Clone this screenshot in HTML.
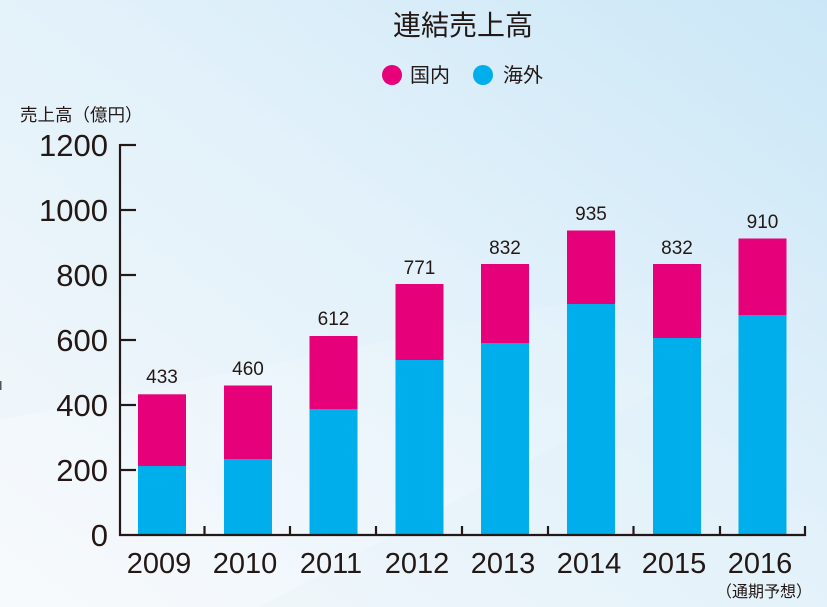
<!DOCTYPE html>
<html>
<head>
<meta charset="utf-8">
<style>
html,body{margin:0;padding:0;}
body{width:827px;height:607px;overflow:hidden;}
svg{display:block;}
.t{font-family:"Liberation Sans","Noto Sans CJK JP",sans-serif;fill:#231815;}
</style>
</head>
<body>
<svg width="827" height="607" viewBox="0 0 827 607" xmlns="http://www.w3.org/2000/svg">
<defs>
<linearGradient id="bg" x1="1" y1="0" x2="0" y2="1">
<stop offset="0" stop-color="#cbe7f7"/>
<stop offset="0.45" stop-color="#e2f1fa"/>
<stop offset="1" stop-color="#f4f8fb"/>
</linearGradient>
<linearGradient id="band" x1="0" y1="1" x2="1" y2="0">
<stop offset="0" stop-color="#ffffff" stop-opacity="0.6"/>
<stop offset="1" stop-color="#ffffff" stop-opacity="0"/>
</linearGradient>
</defs>
<rect width="827" height="607" fill="url(#bg)"/>
<polygon points="0,420 0,607 260,607 827,300 827,250" fill="url(#band)" opacity="0.5"/>
<rect x="0" y="381" width="1.5" height="9" fill="#555"/>

<!-- Title -->
<text class="t" x="463" y="35" font-size="28" font-weight="400" text-anchor="middle">連結売上高</text>
<!-- Legend -->
<circle cx="392" cy="75" r="10" fill="#e6007a"/>
<text class="t" x="410" y="82" font-size="20" fill="#333">国内</text>
<circle cx="483" cy="75" r="10" fill="#00aeeb"/>
<text class="t" x="503" y="82" font-size="20" fill="#333">海外</text>

<!-- Y axis label -->
<text class="t" x="20" y="121" font-size="17.5" fill="#333">売上高（億円）</text>

<!-- Y tick labels -->
<g class="t" font-size="31" text-anchor="end" fill="#2a2a2a">
<text x="108" y="156">1200</text>
<text x="108" y="221">1000</text>
<text x="108" y="286">800</text>
<text x="108" y="351">600</text>
<text x="108" y="416">400</text>
<text x="108" y="481">200</text>
<text x="108" y="546">0</text>
</g>

<!-- Bars -->
<g>
<rect x="138" y="394.3" width="48" height="140.7" fill="#e6007a"/>
<rect x="138" y="466" width="48" height="69" fill="#00aeeb"/>

<rect x="224" y="385.5" width="48" height="149.5" fill="#e6007a"/>
<rect x="224" y="459" width="48" height="76" fill="#00aeeb"/>

<rect x="309.5" y="336" width="48" height="199" fill="#e6007a"/>
<rect x="309.5" y="409" width="48" height="126" fill="#00aeeb"/>

<rect x="395.5" y="284" width="48" height="251" fill="#e6007a"/>
<rect x="395.5" y="360" width="48" height="175" fill="#00aeeb"/>

<rect x="481" y="264" width="48" height="271" fill="#e6007a"/>
<rect x="481" y="343" width="48" height="192" fill="#00aeeb"/>

<rect x="567" y="230.5" width="48" height="304.5" fill="#e6007a"/>
<rect x="567" y="304" width="48" height="231" fill="#00aeeb"/>

<rect x="653" y="264" width="48" height="271" fill="#e6007a"/>
<rect x="653" y="338" width="48" height="197" fill="#00aeeb"/>

<rect x="738.5" y="238.5" width="48" height="296.5" fill="#e6007a"/>
<rect x="738.5" y="315" width="48" height="220" fill="#00aeeb"/>
</g>

<!-- Value labels -->
<g class="t" font-size="19" text-anchor="middle" fill="#2a2a2a">
<text x="162" y="383">433</text>
<text x="248" y="375">460</text>
<text x="333.5" y="325">612</text>
<text x="419.5" y="274">771</text>
<text x="505" y="254">832</text>
<text x="591" y="220">935</text>
<text x="677" y="254">832</text>
<text x="762.5" y="228">910</text>
</g>

<!-- Axes -->
<g stroke="#231815" stroke-width="2.2" fill="none">
<line x1="120" y1="144" x2="120" y2="536"/>
<line x1="119" y1="535" x2="806" y2="535"/>
<line x1="120" y1="145" x2="136" y2="145"/>
<line x1="120" y1="210" x2="136" y2="210"/>
<line x1="120" y1="275" x2="136" y2="275"/>
<line x1="120" y1="340" x2="136" y2="340"/>
<line x1="120" y1="405" x2="136" y2="405"/>
<line x1="120" y1="470" x2="136" y2="470"/>
<line x1="204.5" y1="535" x2="204.5" y2="526"/>
<line x1="290" y1="535" x2="290" y2="526"/>
<line x1="376" y1="535" x2="376" y2="526"/>
<line x1="462" y1="535" x2="462" y2="526"/>
<line x1="548" y1="535" x2="548" y2="526"/>
<line x1="633.5" y1="535" x2="633.5" y2="526"/>
<line x1="720" y1="535" x2="720" y2="526"/>
<line x1="805" y1="536" x2="805" y2="526"/>
</g>

<!-- X labels -->
<g class="t" font-size="29" text-anchor="middle" fill="#2a2a2a">
<text x="159" y="573">2009</text>
<text x="245" y="573">2010</text>
<text x="331" y="573">2011</text>
<text x="417" y="573">2012</text>
<text x="503" y="573">2013</text>
<text x="589" y="573">2014</text>
<text x="674" y="573">2015</text>
<text x="760" y="573">2016</text>
</g>
<text class="t" x="764" y="597" font-size="16" text-anchor="middle" fill="#333">（通期予想）</text>
</svg>
</body>
</html>
